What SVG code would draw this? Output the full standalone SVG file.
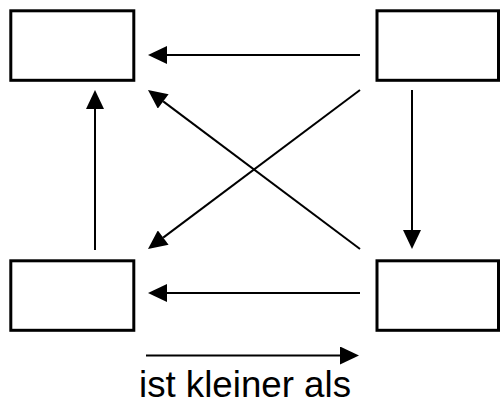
<svg xmlns="http://www.w3.org/2000/svg" width="500" height="405" viewBox="0 0 500 405">
<style>
.box{fill:#fff;stroke:#000;stroke-width:3}
.edge{fill:none;stroke:#000;stroke-width:2;marker-end:url(#ah)}
.lbl{font-family:"Liberation Sans",Arial,sans-serif;font-size:37px;fill:#000}
</style>
<defs>
<marker id="ah" markerUnits="userSpaceOnUse" markerWidth="20" markerHeight="18" refX="0" refY="9" orient="auto" viewBox="0 0 19 18">
<path d="M0,0 L19,9 L0,18 z" fill="#000"/>
</marker>
</defs>
<rect width="500" height="405" fill="#fff"/>
<g id="node-top-left"><rect class="box" x="10.8" y="10.8" width="123" height="69.5"/></g>
<g id="node-top-right"><rect class="box" x="377" y="10.8" width="121.5" height="69.5"/></g>
<g id="node-bottom-left"><rect class="box" x="10.8" y="260.8" width="123" height="69.5"/></g>
<g id="node-bottom-right"><rect class="box" x="377" y="260.8" width="121.5" height="69.5"/></g>
<g id="connectors">
<line class="edge" x1="360" y1="55" x2="167" y2="55"/>
<line class="edge" x1="360" y1="293" x2="167" y2="293"/>
<line class="edge" x1="95" y1="250" x2="95" y2="109"/>
<line class="edge" x1="412" y1="90" x2="412" y2="230"/>
<line class="edge" x1="360" y1="90" x2="163.2" y2="237.6"/>
<line class="edge" x1="360" y1="249" x2="163.2" y2="101.4"/>
</g>
<g id="legend">
<line class="edge" x1="146" y1="355.5" x2="340" y2="355.5"/>
<text class="lbl" x="139" y="397" textLength="212" lengthAdjust="spacingAndGlyphs">ist kleiner als</text>
</g>
</svg>
